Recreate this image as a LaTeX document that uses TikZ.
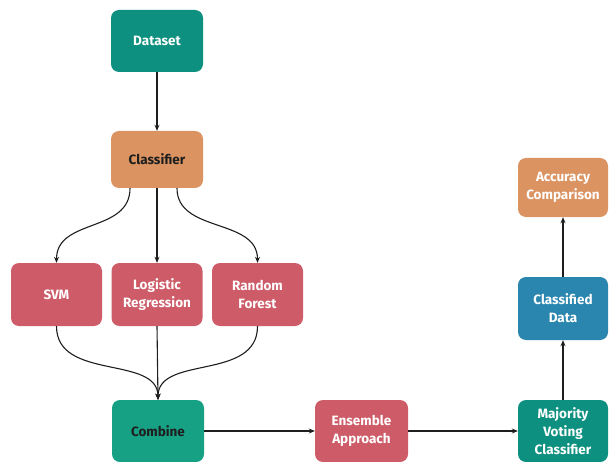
\documentclass[tikz,border=0pt]{standalone}
\usepackage{fontspec}
\setmainfont{Fira Sans}
\usetikzlibrary{arrows.meta}
\definecolor{cteal}{HTML}{0E9080}
\definecolor{cgreen}{HTML}{17A184}
\definecolor{corange}{HTML}{DA9361}
\definecolor{cred}{HTML}{CD5C68}
\definecolor{cblue}{HTML}{2A86AE}
\definecolor{cdark}{HTML}{1E1E1E}
\tikzset{
  box/.style={rectangle, rounded corners=8pt, minimum width=92pt, minimum height=62pt,
    align=center, font=\bfseries\fontsize{13.5}{18}\selectfont, inner sep=1pt},
  conn/.style={draw=cdark, line width=1.1pt, -{Stealth[length=6pt,width=5pt]}}
}
\begin{document}
\begin{tikzpicture}[x=1pt,y=-1pt]
\useasboundingbox (0,0) rectangle (609,462);
\node[box, fill=cteal, text=white] (ds) at (157,41) {Dataset};
\node[box, fill=corange, text=cdark, minimum height=57pt] (cls) at (157,159.5) {Classifier};
\node[box, fill=cred, text=white, minimum width=91pt, minimum height=63pt] (svm) at (56.5,294.5) {SVM};
\node[box, fill=cred, text=white, minimum width=91pt, minimum height=63pt] (lr) at (157,294.5) {Logistic\\Regression};
\node[box, fill=cred, text=white, minimum width=91pt, minimum height=63pt] (rf) at (257.5,294.5) {Random\\Forest};
\node[box, fill=cgreen, text=cdark, minimum width=92pt, minimum height=62pt] (cmb) at (158,431) {Combine};
\node[box, fill=cred, text=white, minimum width=93pt, minimum height=62pt] (ens) at (361.5,431) {Ensemble\\Approach};
\node[box, fill=cteal, text=white, minimum width=90pt, minimum height=62pt] (mv) at (563,431) {Majority\\Voting\\Classifier};
\node[box, fill=cblue, text=white, minimum width=90pt, minimum height=63pt] (cd) at (563,308.5) {Classified\\Data};
\node[box, fill=corange, text=white, minimum width=90pt, minimum height=59pt] (acc) at (563,187.5) {Accuracy\\Comparison};
\draw[conn] (ds) -- (cls);
\draw[conn] ([xshift=-27pt]cls.south) .. controls ([xshift=-27pt,yshift=-45pt]cls.south) and ([yshift=45pt]svm.north) .. (svm.north);
\draw[conn] (cls.south) -- (lr.north);
\draw[conn] ([xshift=20pt]cls.south) .. controls ([xshift=20pt,yshift=-45pt]cls.south) and ([yshift=45pt]rf.north) .. (rf.north);
\draw[conn] (svm.south) .. controls ([yshift=-55pt]svm.south) and ([yshift=45pt]cmb.north) .. (cmb.north);
\draw[conn] (lr.south) -- (cmb.north);
\draw[conn] (rf.south) .. controls ([yshift=-55pt]rf.south) and ([yshift=45pt]cmb.north) .. (cmb.north);
\draw[conn] (cmb) -- (ens);
\draw[conn] (ens) -- (mv);
\draw[conn] (mv) -- (cd);
\draw[conn] (cd) -- (acc);
\end{tikzpicture}
\end{document}
